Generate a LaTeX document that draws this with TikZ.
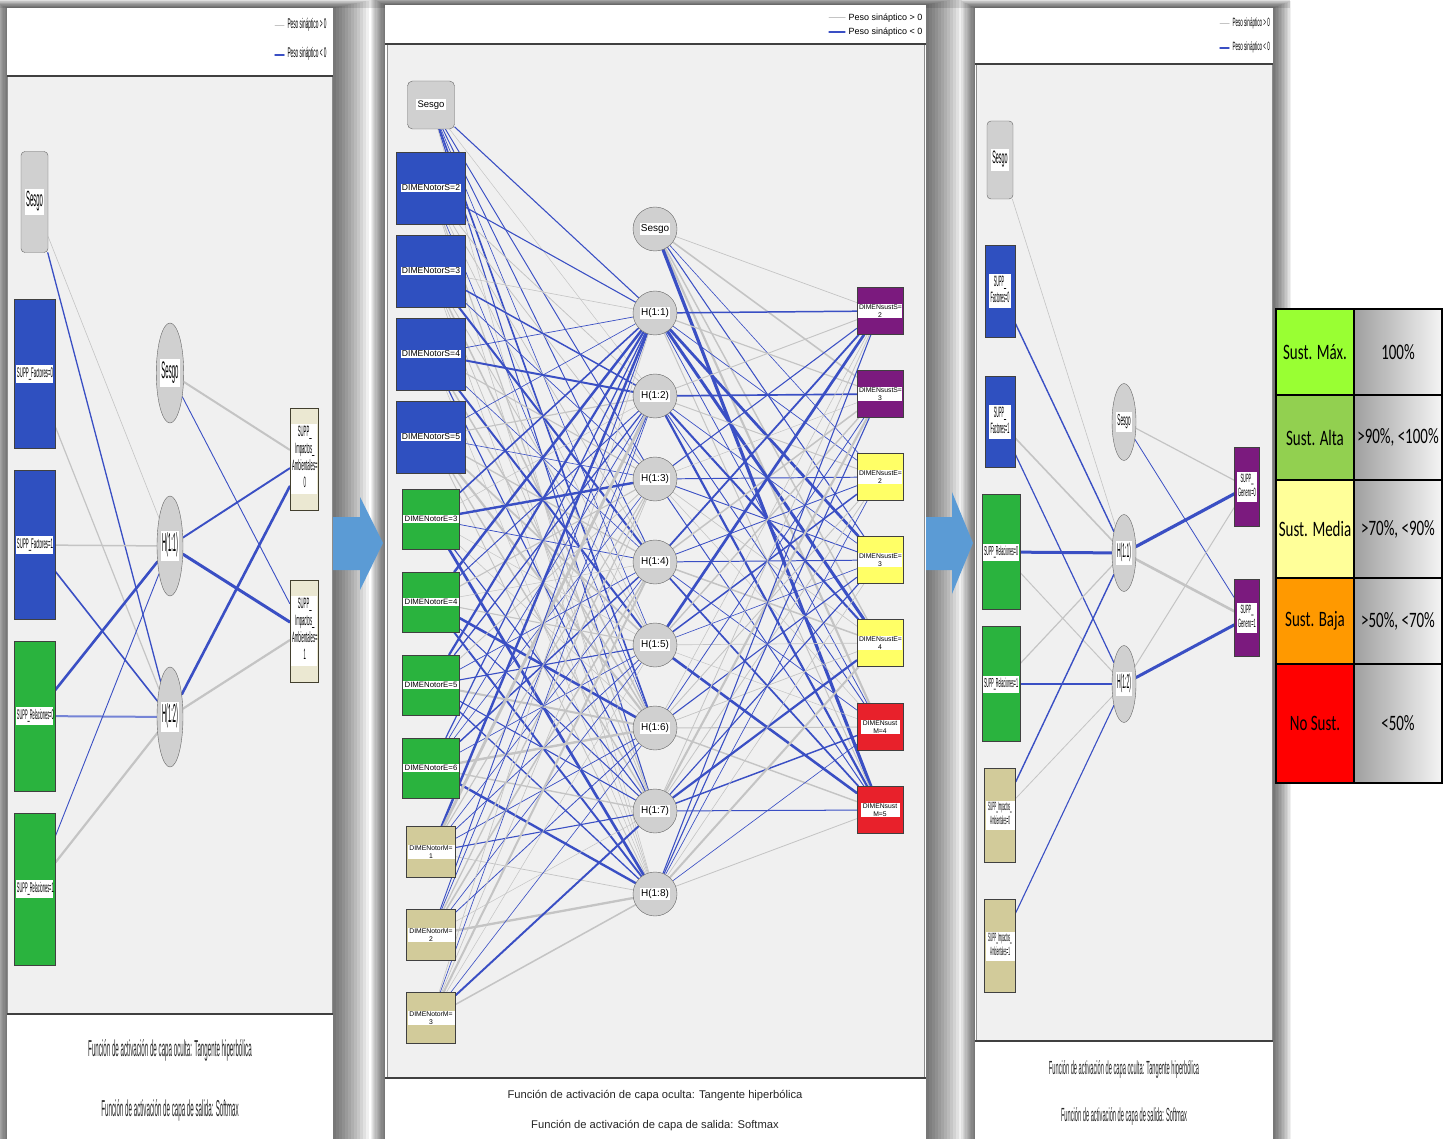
\documentclass[tikz,border=0pt]{standalone}
\usepackage{fontspec}
\setmainfont{Liberation Sans}
\newfontfamily\tablefont{Carlito}
\usepackage{graphicx}
\usetikzlibrary{positioning,shapes.geometric}

\definecolor{spssblue}{HTML}{2F50C0}
\definecolor{spssgreen}{HTML}{2AB33E}
\definecolor{spsskhaki}{HTML}{D2CB9A}
\definecolor{spsspurple}{HTML}{7B1A7E}
\definecolor{spssyellow}{HTML}{FFFF66}
\definecolor{spssred}{HTML}{E8212B}
\definecolor{biasgray}{HTML}{D0D0D0}
\definecolor{negw}{HTML}{3A4FC4}
\definecolor{posw}{HTML}{C4C4C4}
\definecolor{plotbg}{HTML}{F0F0F0}
\definecolor{arrowblue}{HTML}{5B9BD5}
\definecolor{susmax}{HTML}{99FF33}
\definecolor{susalta}{HTML}{92D050}
\definecolor{susmedia}{HTML}{FFFF99}
\definecolor{susbaja}{HTML}{FF9900}
\definecolor{susno}{HTML}{FF0000}

\pgfdeclarelayer{back}
\pgfdeclarelayer{wires}
\pgfsetlayers{back,wires,main}

% white label behind a node text
\newcommand{\lbltag}[1]{{\setlength{\fboxsep}{1.2pt}\colorbox{white}{#1}}}
\newcommand{\lblstrip}[2]{{\setlength{\fboxsep}{1pt}\colorbox{white}{\parbox{#1}{\centering #2}}}}
% horizontally squeezed text (side panels)
\newcommand{\thinlbl}[2]{\scalebox{#1}[1]{\begin{tabular}{@{}c@{}}#2\end{tabular}}}

\begin{document}
\begin{tikzpicture}[x=1pt, y=-1pt,
  nnbox/.style={rectangle, draw=black!75, inner sep=0pt},
  negline/.style={draw=negw, line cap=round},
  posline/.style={draw=posw, line cap=round},
  % middle panel
  mbias/.style={nnbox, rounded corners=5pt, draw=black!60, fill=biasgray, minimum width=47pt, minimum height=48pt, font=\fontsize{9.5}{11}\selectfont},
  mblue/.style={nnbox, fill=spssblue, minimum width=69pt, minimum height=72pt, font=\fontsize{8.6}{10}\selectfont},
  mgreen/.style={nnbox, fill=spssgreen, minimum width=57pt, minimum height=60pt, font=\fontsize{7.8}{9}\selectfont},
  mkhaki/.style={nnbox, fill=spsskhaki, minimum width=49pt, minimum height=51pt, font=\fontsize{6.8}{8}\selectfont},
  mhid/.style={circle, draw=black!60, fill=biasgray, minimum size=44pt, inner sep=0pt, font=\fontsize{10}{12}\selectfont},
  mout/.style={nnbox, minimum width=46pt, minimum height=47pt, font=\fontsize{6.8}{8}\selectfont},
  % side panels
  sbias/.style={nnbox, rounded corners=4pt, draw=black!60, fill=biasgray},
  sellip/.style={ellipse, draw=black!60, fill=biasgray, inner sep=0pt},
  foot/.style={text=black!85},
  tcell/.style={rectangle, draw=black, line width=1.3pt, inner sep=0pt, font=\tablefont\fontsize{22}{24}\selectfont},
  tval/.style={tcell, shading=axis, left color=gray!75, right color=gray!8}
]
\useasboundingbox (0,0) rectangle (1453,1139);

\begin{pgfonlayer}{back}
\fill[white] (0,0) rectangle (1453,1139);
\fill[black!12] (0,0) rectangle (1290,8);
% panel shadows
\foreach \k in {1,...,12}{
  \fill[black, opacity=0.06] (7-\k*1.2,8-\k*0.6) rectangle (333+\k*3,1150);
  \fill[black, opacity=0.06] (385-\k*1.2,5-\k*0.6) rectangle (926+\k*3,1150);
  \fill[black, opacity=0.06] (975-\k*1.2,8-\k*0.6) rectangle (1273+\k*1.5,1150);
}
% left panel
\fill[white] (7,8) rectangle (333,1139);
\fill[plotbg] (7,76) rectangle (332,1014);
\draw[black!45] (7,76) rectangle (332,1014);
\draw[black!75, line width=1.5pt] (7,76) -- (333,76) (7,1014) -- (333,1014);
% middle panel
\fill[white] (385,5) rectangle (926,1139);
\fill[plotbg] (387,44) rectangle (924,1078);
\draw[black!45] (387,44) rectangle (924,1078);
\draw[black!75, line width=1.3pt] (385,44) -- (926,44) (385,1078) -- (926,1078);
% right panel
\fill[white] (975,8) rectangle (1273,1139);
\fill[plotbg] (976,64) rectangle (1272,1041);
\draw[black!45] (976,64) rectangle (1272,1041);
\draw[black!75, line width=1.5pt] (975,64) -- (1273,64) (975,1041) -- (1273,1041);
% block arrows between panels
\fill[arrowblue] (333,517) -- (360,517) -- (360,497) -- (383,543) -- (360,590) -- (360,570) -- (333,570) -- cycle;
\fill[arrowblue] (926,517) -- (952,517) -- (952,492) -- (973,543) -- (952,594) -- (952,570) -- (926,570) -- cycle;
\end{pgfonlayer}

%%% left network
\node[sbias, minimum width=27pt, minimum height=101pt, font=\fontsize{22}{24}\selectfont] (lb) at (34.5,202) {\lbltag{\thinlbl{0.27}{Sesgo}}};
\node[nnbox, fill=spssblue, minimum width=41pt, minimum height=149pt, font=\fontsize{14}{16}\selectfont] (li1) at (34.5,374) {\lblstrip{35pt}{\thinlbl{0.31}{SUPP\_Factores=0}}};
\node[nnbox, fill=spssblue, minimum width=41pt, minimum height=149pt, font=\fontsize{14}{16}\selectfont] (li2) at (34.5,545) {\lblstrip{35pt}{\thinlbl{0.31}{SUPP\_Factores=1}}};
\node[nnbox, fill=spssgreen, minimum width=41pt, minimum height=150pt, font=\fontsize{14}{16}\selectfont] (li3) at (34.5,716) {\lblstrip{35pt}{\thinlbl{0.28}{SUPP\_Relaciones=0}}};
\node[nnbox, fill=spssgreen, minimum width=41pt, minimum height=152pt, font=\fontsize{14}{16}\selectfont] (li4) at (34.5,889) {\lblstrip{35pt}{\thinlbl{0.28}{SUPP\_Relaciones=1}}};
\node[sellip, minimum width=26pt, minimum height=100pt, font=\fontsize{24}{26}\selectfont] (lhb) at (170,373) {\lbltag{\thinlbl{0.25}{Sesgo}}};
\node[sellip, minimum width=26pt, minimum height=100pt, font=\fontsize{26}{28}\selectfont] (lh1) at (170,546) {\lbltag{\thinlbl{0.22}{H(1:1)}}};
\node[sellip, minimum width=26pt, minimum height=100pt, font=\fontsize{26}{28}\selectfont] (lh2) at (170,717) {\lbltag{\thinlbl{0.22}{H(1:2)}}};
\node[nnbox, draw=black!70!olive, fill=spsskhaki!45, minimum width=28pt, minimum height=102pt, font=\fontsize{15}{17}\selectfont] (lo1) at (304,459) {\lblstrip{24pt}{\thinlbl{0.28}{SUPP\_\\Impactos\_\\Ambientales=\\0}}};
\node[nnbox, draw=black!70!olive, fill=spsskhaki!45, minimum width=28pt, minimum height=102pt, font=\fontsize{15}{17}\selectfont] (lo2) at (304,631) {\lblstrip{24pt}{\thinlbl{0.28}{SUPP\_\\Impactos\_\\Ambientales=\\1}}};

\begin{pgfonlayer}{wires}
\draw[posline, line width=0.6pt] (lb) -- (lh1);
\draw[negline, line width=1.3pt] (lb) -- (lh2);
\draw[posline, line width=1.2pt] (li1) -- (lh2);
\draw[posline, line width=1.5pt] (li2) -- (lh1);
\draw[negline, line width=1.6pt] (li2) -- (lh2);
\draw[negline, line width=2.6pt] (li3) -- (lh1);
\draw[negline, draw=negw!70, line width=2pt] (li3) -- (lh2);
\draw[negline, line width=0.9pt] (li4) -- (lh1);
\draw[posline, line width=2.2pt] (li4) -- (lh2);
\draw[posline, line width=2pt] (lhb) -- (lo1);
\draw[negline, line width=0.9pt] (lhb) -- (lo2);
\draw[negline, line width=1.9pt] (lh1) -- (lo1);
\draw[negline, line width=3pt] (lh1) -- (lo2);
\draw[negline, line width=2.6pt] (lh2) -- (lo1);
\draw[posline, line width=2.2pt] (lh2) -- (lo2);
\end{pgfonlayer}

\node[anchor=west, font=\fontsize{14}{15}\selectfont] (llg1) at (284,26) {\thinlbl{0.34}{Peso sináptico > 0}};
\node[anchor=west, font=\fontsize{14}{15}\selectfont] (llg2) at (284,55) {\thinlbl{0.34}{Peso sináptico < 0}};
\draw[posline, line width=1pt] (llg1.west) -- ++(-9,0);
\draw[negline, line width=1.5pt] (llg2.west) -- ++(-9,0);
\node[foot, font=\fontsize{23}{25}\selectfont] (lft1) at (170,1051) {\thinlbl{0.27}{Función de activación de capa oculta: Tangente hiperbólica}};
\node[foot, font=\fontsize{23}{25}\selectfont] (lft2) at (170,1111) {\thinlbl{0.27}{Función de activación de capa de salida: Softmax}};

%%% middle network
\node[mbias] (mi0) at (431,105) {\lbltag{Sesgo}};
\node[mblue] (mi1) at (431,188) {\lbltag{DIMENotorS=2}};
\node[mblue] (mi2) at (431,271) {\lbltag{DIMENotorS=3}};
\node[mblue] (mi3) at (431,354) {\lbltag{DIMENotorS=4}};
\node[mblue] (mi4) at (431,437) {\lbltag{DIMENotorS=5}};
\node[mgreen] (mi5) at (431,519) {\lbltag{DIMENotorE=3}};
\node[mgreen] (mi6) at (431,602) {\lbltag{DIMENotorE=4}};
\node[mgreen] (mi7) at (431,685) {\lbltag{DIMENotorE=5}};
\node[mgreen] (mi8) at (431,768) {\lbltag{DIMENotorE=6}};
\node[mkhaki] (mi9) at (431,852) {\lblstrip{45pt}{DIMENotorM=\\1}};
\node[mkhaki] (mi10) at (431,935) {\lblstrip{45pt}{DIMENotorM=\\2}};
\node[mkhaki] (mi11) at (431,1018) {\lblstrip{45pt}{DIMENotorM=\\3}};

\node[mhid] (mh0) at (655,229) {\lbltag{Sesgo}};
\node[mhid] (mh1) at (655,313) {\lbltag{H(1:1)}};
\node[mhid] (mh2) at (655,396) {\lbltag{H(1:2)}};
\node[mhid] (mh3) at (655,479) {\lbltag{H(1:3)}};
\node[mhid] (mh4) at (655,562) {\lbltag{H(1:4)}};
\node[mhid] (mh5) at (655,645) {\lbltag{H(1:5)}};
\node[mhid] (mh6) at (655,728) {\lbltag{H(1:6)}};
\node[mhid] (mh7) at (655,811) {\lbltag{H(1:7)}};
\node[mhid] (mh8) at (655,894) {\lbltag{H(1:8)}};

\node[mout, fill=spsspurple] (mo1) at (880,311) {\lblstrip{42pt}{DIMENsustS=\\2}};
\node[mout, fill=spsspurple] (mo2) at (880,394) {\lblstrip{42pt}{DIMENsustS=\\3}};
\node[mout, fill=spssyellow] (mo3) at (880,477) {\lblstrip{42pt}{DIMENsustE=\\2}};
\node[mout, fill=spssyellow] (mo4) at (880,560) {\lblstrip{42pt}{DIMENsustE=\\3}};
\node[mout, fill=spssyellow] (mo5) at (880,643) {\lblstrip{42pt}{DIMENsustE=\\4}};
\node[mout, fill=spssred] (mo6) at (880,727) {\lblstrip{37pt}{DIMENsust\\M=4}};
\node[mout, fill=spssred] (mo7) at (880,810) {\lblstrip{37pt}{DIMENsust\\M=5}};

% synaptic weights: blue < 0, grey > 0
\begin{pgfonlayer}{wires}
\pgfmathsetseed{4242}
\foreach \i in {0,...,11}{
  \foreach \j in {1,...,8}{
    \pgfmathsetmacro{\wt}{0.6+3.0*rnd*rnd}
    \pgfmathtruncatemacro{\isneg}{rnd<0.55 ? 1 : 0}
    \ifnum\isneg=1 \draw[negline, line width=\wt pt] (mi\i) -- (mh\j);
    \else \draw[posline, line width=0.8*\wt pt] (mi\i) -- (mh\j); \fi
  }
}
\foreach \j in {0,...,8}{
  \foreach \k in {1,...,7}{
    \pgfmathsetmacro{\wt}{0.6+3.0*rnd*rnd}
    \pgfmathtruncatemacro{\isneg}{rnd<0.6 ? 1 : 0}
    \ifnum\isneg=1 \draw[negline, line width=\wt pt] (mh\j) -- (mo\k);
    \else \draw[posline, line width=0.8*\wt pt] (mh\j) -- (mo\k); \fi
  }
}
\end{pgfonlayer}

\node[anchor=west, font=\fontsize{9}{10.5}\selectfont] (mlg1) at (845,18) {Peso sináptico > 0};
\node[anchor=west, font=\fontsize{9}{10.5}\selectfont] (mlg2) at (845,32) {Peso sináptico < 0};
\draw[posline, line width=1pt] (mlg1.west) -- ++(-16,0);
\draw[negline, line width=1.2pt] (mlg2.west) -- ++(-16,0);
\node[foot, font=\fontsize{11.2}{13}\selectfont] (mft1) at (655,1096) {Función de activación de capa oculta: Tangente hiperbólica};
\node[foot, font=\fontsize{11.2}{13}\selectfont] (mft2) at (655,1126) {Función de activación de capa de salida: Softmax};

%%% right network
\node[sbias, minimum width=26pt, minimum height=78pt, font=\fontsize{18}{20}\selectfont] (rb) at (1000,160) {\lbltag{\thinlbl{0.3}{Sesgo}}};
\node[nnbox, fill=spssblue, minimum width=30pt, minimum height=92pt, font=\fontsize{15}{16}\selectfont] (ri1) at (1000,291) {\lbltag{\thinlbl{0.25}{SUPP\_\\Factores=0}}};
\node[nnbox, fill=spssblue, minimum width=30pt, minimum height=91pt, font=\fontsize{15}{16}\selectfont] (ri2) at (1000,422) {\lbltag{\thinlbl{0.25}{SUPP\_\\Factores=1}}};
\node[nnbox, fill=spssgreen, minimum width=38pt, minimum height=115pt, font=\fontsize{13}{15}\selectfont] (ri3) at (1001,552) {\lblstrip{34pt}{\thinlbl{0.28}{SUPP\_Relaciones=0}}};
\node[nnbox, fill=spssgreen, minimum width=38pt, minimum height=115pt, font=\fontsize{13}{15}\selectfont] (ri4) at (1001,684) {\lblstrip{34pt}{\thinlbl{0.28}{SUPP\_Relaciones=1}}};
\node[nnbox, fill=spsskhaki, minimum width=31pt, minimum height=94pt, font=\fontsize{12}{13.5}\selectfont] (ri5) at (1000,815) {\lblstrip{27pt}{\thinlbl{0.25}{SUPP\_Impactos\_\\Ambientales=0}}};
\node[nnbox, fill=spsskhaki, minimum width=31pt, minimum height=93pt, font=\fontsize{12}{13.5}\selectfont] (ri6) at (1000,946) {\lblstrip{27pt}{\thinlbl{0.25}{SUPP\_Impactos\_\\Ambientales=1}}};
\node[sellip, minimum width=24pt, minimum height=77pt, font=\fontsize{16}{18}\selectfont] (rhb) at (1124,422) {\lbltag{\thinlbl{0.29}{Sesgo}}};
\node[sellip, minimum width=24pt, minimum height=77pt, font=\fontsize{20}{22}\selectfont] (rh1) at (1124,553) {\lbltag{\thinlbl{0.25}{H(1:1)}}};
\node[sellip, minimum width=24pt, minimum height=77pt, font=\fontsize{20}{22}\selectfont] (rh2) at (1124,684) {\lbltag{\thinlbl{0.25}{H(1:2)}}};
\node[nnbox, fill=spsspurple, minimum width=25pt, minimum height=79pt, font=\fontsize{12}{14}\selectfont] (ro1) at (1247,487) {\lbltag{\thinlbl{0.33}{SUPP\_\\Genero=0}}};
\node[nnbox, fill=spsspurple, minimum width=25pt, minimum height=77pt, font=\fontsize{12}{14}\selectfont] (ro2) at (1247,618) {\lbltag{\thinlbl{0.33}{SUPP\_\\Genero=1}}};

\begin{pgfonlayer}{wires}
\draw[posline, line width=0.6pt] (rb) -- (rh1);
\draw[negline, line width=1.4pt] (ri1) -- (rh1);
\draw[posline, line width=1.6pt] (ri2) -- (rh1);
\draw[negline, line width=1.2pt] (ri2) -- (rh2);
\draw[negline, line width=3pt] (ri3) -- (rh1);
\draw[posline, line width=1pt] (ri3) -- (rh2);
\draw[posline, line width=1.2pt] (ri4) -- (rh1);
\draw[negline, line width=1.6pt] (ri4) -- (rh2);
\draw[negline, line width=1.4pt] (ri5) -- (rh1);
\draw[posline, line width=0.8pt] (ri5) -- (rh2);
\draw[negline, line width=1.1pt] (ri6) -- (rh2);
\draw[posline, line width=1.2pt] (rhb) -- (ro1);
\draw[negline, line width=0.8pt] (rhb) -- (ro2);
\draw[negline, line width=3.2pt] (rh1) -- (ro1);
\draw[posline, line width=2.6pt] (rh1) -- (ro2);
\draw[posline, line width=1pt] (rh2) -- (ro1);
\draw[negline, line width=3pt] (rh2) -- (ro2);
\end{pgfonlayer}

\node[anchor=west, font=\fontsize{12}{13}\selectfont] (rlg1) at (1229,24) {\thinlbl{0.38}{Peso sináptico > 0}};
\node[anchor=west, font=\fontsize{12}{13}\selectfont] (rlg2) at (1229,48) {\thinlbl{0.38}{Peso sináptico < 0}};
\draw[posline, line width=1pt] (rlg1.west) -- ++(-9,0);
\draw[negline, line width=1.4pt] (rlg2.west) -- ++(-9,0);
\node[foot, font=\fontsize{19}{21}\selectfont] (rft1) at (1124,1070) {\thinlbl{0.3}{Función de activación de capa oculta: Tangente hiperbólica}};
\node[foot, font=\fontsize{19}{21}\selectfont] (rft2) at (1124,1117) {\thinlbl{0.3}{Función de activación de capa de salida: Softmax}};

%%% sustainability scale
\node[tcell, fill=susmax, minimum width=78pt, minimum height=86pt] (t1) at (1315,352) {\scalebox{0.68}[1]{Sust. Máx.}};
\node[tval, minimum width=88pt, minimum height=86pt] (v1) at (1398,352) {\scalebox{0.68}[1]{100\%}};
\node[tcell, fill=susalta, minimum width=78pt, minimum height=85pt] (t2) at (1315,437.5) {\scalebox{0.68}[1]{Sust. Alta}};
\node[tval, minimum width=88pt, minimum height=85pt] (v2) at (1398,437.5) {\scalebox{0.68}[1]{>90\%, <100\%}};
\node[tcell, fill=susmedia, minimum width=78pt, minimum height=98pt] (t3) at (1315,529) {\scalebox{0.68}[1]{Sust. Media}};
\node[tval, minimum width=88pt, minimum height=98pt] (v3) at (1398,529) {\scalebox{0.68}[1]{>70\%, <90\%}};
\node[tcell, fill=susbaja, minimum width=78pt, minimum height=86pt] (t4) at (1315,621) {\scalebox{0.68}[1]{Sust. Baja}};
\node[tval, minimum width=88pt, minimum height=86pt] (v4) at (1398,621) {\scalebox{0.68}[1]{>50\%, <70\%}};
\node[tcell, fill=susno, minimum width=78pt, minimum height=119pt] (t5) at (1315,723.5) {\scalebox{0.68}[1]{No Sust.}};
\node[tval, minimum width=88pt, minimum height=119pt] (v5) at (1398,723.5) {\scalebox{0.68}[1]{<50\%}};
\end{tikzpicture}
\end{document}
